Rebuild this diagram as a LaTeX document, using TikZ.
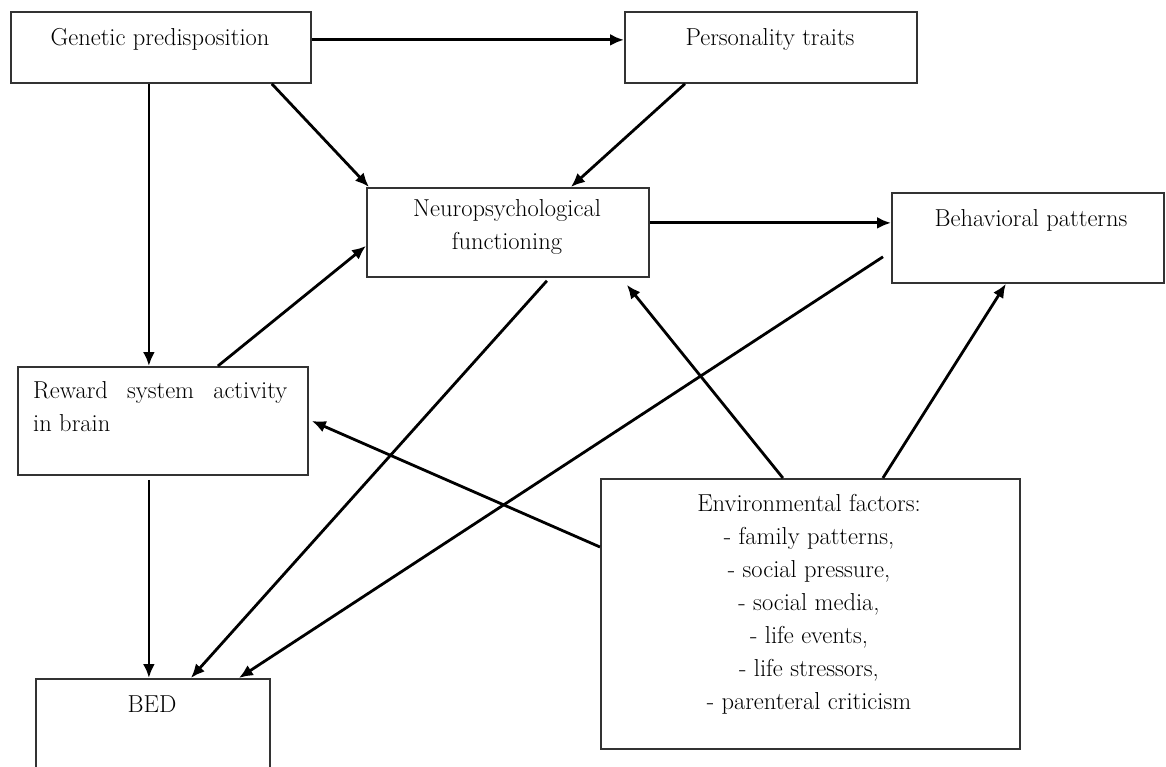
\documentclass[tikz,border=0pt]{standalone}
\usepackage{tikz}
\usetikzlibrary{positioning,arrows.meta,calc}
\definecolor{boxline}{HTML}{333333}
\tikzset{
  factor/.style={draw=boxline, line width=1.8pt, inner sep=0pt, anchor=north west},
  lbl/.style={inner sep=0pt, font=\fontsize{24.5}{33}\selectfont, align=center},
  link/.style={line width=2.8pt, -{Latex[length=14pt,width=12pt]}},
}
\newcommand{\factorbox}[5]{%
  \node[factor, minimum width=#4pt, minimum height=#5pt] (#1) at (#2,#3) {};
}

\begin{document}
\begin{tikzpicture}[x=1pt,y=-1pt]
  \useasboundingbox (0,0) rectangle (1166,767);
  % boxes
  \factorbox{gen}{10}{11}{300}{71}
  \factorbox{pers}{624}{11}{292}{71}
  \factorbox{neuro}{366}{187}{282}{89}
  \factorbox{behav}{891}{192}{272}{90}
  \factorbox{reward}{17}{366}{290}{108}
  \factorbox{env}{600}{478}{419}{270}
  \factorbox{bed}{35}{678}{234}{120}
  % texts (base = last line)
  \node[lbl, anchor=base] (genT) at (160,46) {Genetic predisposition};
  \node[lbl, anchor=base] (persT) at (770,46) {Personality traits};
  \node[lbl, anchor=base] (neuroT) at (507,250) {Neuropsychological\\functioning};
  \node[lbl, anchor=base] (behavT) at (1031,227) {Behavioral patterns};
  \node[lbl, anchor=base west, align=left] (rewardT) at (33,431)
    {\makebox[254pt][s]{Reward system activity}\\in brain};
  \node[lbl, anchor=base] (envT) at (809,709) {Environmental factors:\\- family patterns,\\- social pressure,\\- social media,\\- life events,\\- life stressors,\\- parenteral criticism};
  \node[lbl, anchor=base] (bedT) at (152,712) {BED};
  % links
  \draw[link] ([yshift=7.5pt]gen.east) -- ([yshift=7.5pt]gen.east -| pers.west);
  \draw[link] ([xshift=-12pt]gen.south) -- ([xshift=-12pt]gen.south |- reward.north);
  \draw[link] ([xshift=-40pt]gen.south east) -- ([xshift=3pt]neuro.north west);
  \draw[link] ([xshift=61pt]pers.south west) -- ([xshift=63pt]neuro.north);
  \draw[link] ([yshift=9.5pt]neuro.east) -- ([yshift=9.5pt]neuro.east -| behav.west);
  \draw[link] ([xshift=55pt]reward.north) -- ([yshift=-13.5pt]neuro.west);
  \draw[link] ([yshift=-69pt]env.north west) -- ([xshift=3pt]reward.east);
  \draw[link] ([xshift=-27.5pt]env.north) -- ([shift={(-23pt,-7pt)}]neuro.south east);
  \draw[link] ([xshift=72.5pt]env.north) -- ([xshift=-22pt]behav.south);
  \draw[link] ([xshift=-14pt,yshift=-4pt]reward.south) -- ([xshift=-14pt]reward.south |- bed.north);
  \draw[link] ([shift={(39pt,-3pt)}]neuro.south) -- ([xshift=38pt]bed.north);
  \draw[link] ([shift={(-8pt,27pt)}]behav.south west) -- ([xshift=86pt]bed.north);
\end{tikzpicture}
\end{document}
